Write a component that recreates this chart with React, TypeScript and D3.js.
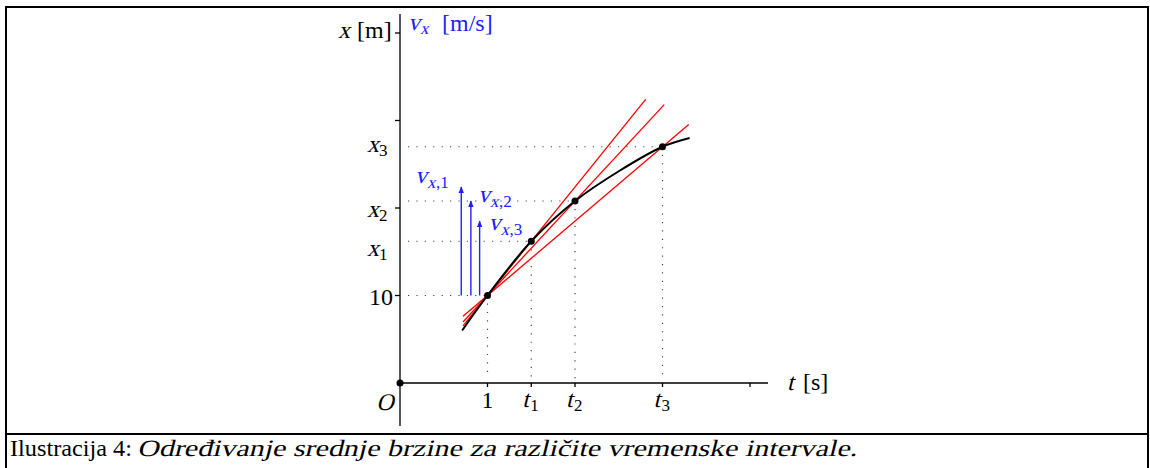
import React from "react";
import * as d3 from "d3";

const curveT = [0.71, 1, 1.5, 2, 2.5, 3, 3.31];
const curveX = [6.0, 10, 16.2, 20.8, 24.2, 27.0, 28.0];
const markT = [1, 1.5, 2, 3];
const markX = [10, 16.2, 20.8, 27.0];
const tTickValues = [1, 1.5, 2, 3, 4];
const tTickLabels = ["1", "t1", "t2", "t3", ""];
const yTickValues = [10, 20, 30, 40];
const yLabelValues = [10, 15.1, 19.6, 27.0];
const yLabels = ["10", "x1", "x2", "x3"];
const secantStartT = 0.72;
const secantEndT = [2.81, 3.02, 3.3];
const arrowT = [0.7, 0.81, 0.91];
const arrowLabels = ["1", "2", "3"];
const arrowLabelT = [0.17, 0.89, 1.01];
const arrowLabelY = [183, 202, 230];

const W = 1150;
const H = 468;
const FONT = "Liberation Serif";
const SKEW = -14;
const FS = 24;
const SUB = 17;

function It({ x, y, children, size = FS, fill = "#000", anchor = "start" }: any) {
  return (
    <text
      transform={`translate(${x},${y}) skewX(${SKEW})`}
      textAnchor={anchor}
      fill={fill}
      style={{ fontFamily: FONT, fontSize: size }}
    >
      {children}
    </text>
  );
}

function Rm({ x, y, children, size = FS, fill = "#000", anchor = "start" }: any) {
  return (
    <text x={x} y={y} textAnchor={anchor} fill={fill} style={{ fontFamily: FONT, fontSize: size }}>
      {children}
    </text>
  );
}

function XSub({ x, y, letter, sub, fill = "#000" }: any) {
  return (
    <g>
      <It x={x} y={y} fill={fill}>{letter}</It>
      <Rm x={x + (letter === "t" ? 8 : 12)} y={y + 4} size={SUB} fill={fill}>{sub}</Rm>
    </g>
  );
}

export default function App() {
  const xS = d3.scaleLinear().domain([0, 4]).range([400, 750]);
  const yS = d3.scaleLinear().domain([0, 40]).range([383, 33]);

  const curvePts: [number, number][] = curveT.map((t, i) => [xS(t), yS(curveX[i])]);
  const line = d3.line().curve(d3.curveCatmullRom.alpha(0.5));
  const curvePath = line(curvePts) || "";

  const t0 = markT[0];
  const x0 = markX[0];
  const secants = secantEndT.map((te, i) => {
    const slope = (markX[i + 1] - x0) / (markT[i + 1] - t0);
    return {
      x1: xS(secantStartT),
      y1: yS(x0 + slope * (secantStartT - t0)),
      x2: xS(te),
      y2: yS(x0 + slope * (te - t0)),
      slope,
    };
  });

  const blue = "#2020ff";

  return (
    <svg width={W} height={H} style={{ position: "absolute", left: 0, top: 0, background: "#fff" }}>
      <defs>
        <marker id="ah" viewBox="0 0 10 10" refX="9" refY="5" markerWidth="7" markerHeight="7" orient="auto" markerUnits="userSpaceOnUse">
          <path d="M0,1 L10,5 L0,9 z" fill={blue} />
        </marker>
      </defs>
      <rect x={6} y={7} width={1142} height={470} fill="none" stroke="#000" strokeWidth={2} />
      <line x1={6} x2={1148} y1={434} y2={434} stroke="#000" strokeWidth={2} />

      {markT.map((t, i) => (
        <g key={"g" + i}>
          <line x1={408} x2={xS(t)} y1={yS(markX[i])} y2={yS(markX[i])} stroke="#444" strokeWidth={1.2} strokeDasharray="1.2,7.2" />
          <line x1={xS(t)} x2={xS(t)} y1={yS(markX[i]) + 8} y2={yS(0) - 4} stroke="#444" strokeWidth={1.2} strokeDasharray="1.2,7.2" />
        </g>
      ))}

      <line x1={xS(0)} x2={xS(0)} y1={14} y2={426} stroke="#000" strokeWidth={1.3} />
      <line x1={xS(0)} x2={768} y1={yS(0)} y2={yS(0)} stroke="#000" strokeWidth={1.3} />
      {yTickValues.map((v) => (
        <line key={"yt" + v} x1={xS(0) - 5} x2={xS(0)} y1={yS(v)} y2={yS(v)} stroke="#000" strokeWidth={1.3} />
      ))}
      {tTickValues.map((v) => (
        <line key={"xt" + v} x1={xS(v)} x2={xS(v)} y1={yS(0)} y2={yS(0) + 4} stroke="#000" strokeWidth={1.3} />
      ))}
      <circle cx={xS(0)} cy={yS(0)} r={3.5} fill="#000" />
      <It x={385} y={410} anchor="middle">O</It>

      {tTickValues.map((v, i) =>
        tTickLabels[i] === "" ? null : tTickLabels[i].length === 1 ? (
          <Rm key={"xl" + i} x={xS(v)} y={408} anchor="middle">{tTickLabels[i]}</Rm>
        ) : (
          <XSub key={"xl" + i} letter={tTickLabels[i][0]} sub={tTickLabels[i].slice(1)} x={xS(v) - 9} y={407} />
        )
      )}

      {yLabelValues.map((v, i) =>
        yLabels[i][0] === "x" ? (
          <XSub key={"yl" + i} letter={yLabels[i][0]} sub={yLabels[i].slice(1)} x={367} y={yS(v) + 5.5} />
        ) : (
          <Rm key={"yl" + i} x={393} y={yS(v) + 9} anchor="end">{yLabels[i]}</Rm>
        )
      )}

      {/* axis titles */}
      <It x={338} y={38}>x</It>
      <Rm x={357} y={38}>[m]</Rm>
      <It x={408} y={30} fill={blue}>v</It>
      <It x={420} y={34} size={SUB} fill={blue}>x</It>
      <Rm x={442} y={31} fill={blue}>[m/s]</Rm>
      <It x={787} y={390}>t</It>
      <Rm x={803} y={390}>[s]</Rm>

      {secants.map((s, i) => (
        <g key={"ar" + i}>
          <line x1={xS(arrowT[i])} x2={xS(arrowT[i])} y1={yS(x0)} y2={yS(x0 + s.slope)} stroke={blue} strokeWidth={1.4} markerEnd="url(#ah)" />
          <It x={xS(arrowLabelT[i])} y={arrowLabelY[i]} fill={blue}>v</It>
          <It x={xS(arrowLabelT[i]) + 12} y={arrowLabelY[i] + 5} size={SUB} fill={blue}>x</It>
          <Rm x={xS(arrowLabelT[i]) + 21} y={arrowLabelY[i] + 5} size={SUB} fill={blue}>{"," + arrowLabels[i]}</Rm>
        </g>
      ))}

      {secants.map((s, i) => (
        <line key={"sc" + i} x1={s.x1} y1={s.y1} x2={s.x2} y2={s.y2} stroke="#ff0000" strokeWidth={1.3} />
      ))}

      <path d={curvePath} fill="none" stroke="#000" strokeWidth={2} />
      {markT.map((t, i) => (
        <circle key={"m" + i} cx={xS(t)} cy={yS(markX[i])} r={3.5} fill="#000" />
      ))}

      <text x={10} y={456} textLength={122} lengthAdjust="spacingAndGlyphs" style={{ fontFamily: FONT, fontSize: 23.5 }}>
        Ilustracija 4:
      </text>
      <text
        transform={`translate(137,456) skewX(-14)`}
        textLength={720}
        lengthAdjust="spacingAndGlyphs"
        style={{ fontFamily: FONT, fontSize: 23.5 }}
      >
        Određivanje srednje brzine za različite vremenske intervale.
      </text>
    </svg>
  );
}
